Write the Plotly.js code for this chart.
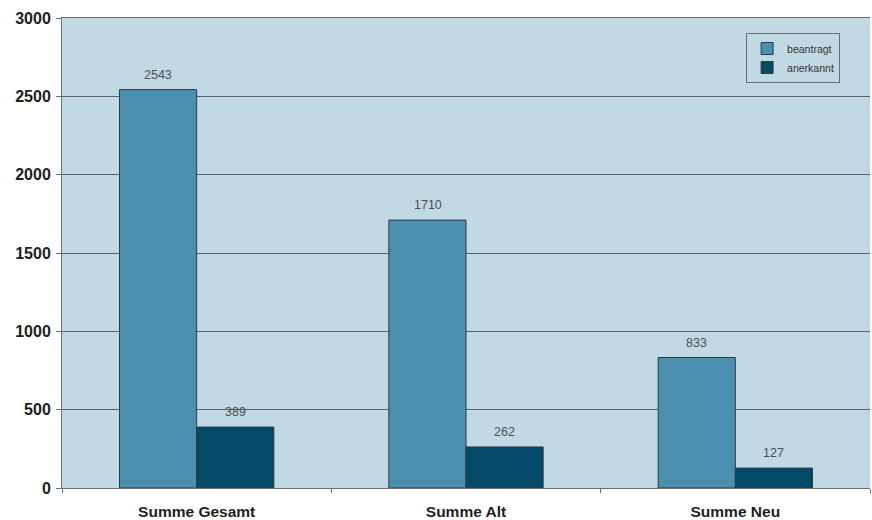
<!DOCTYPE html>
<html>
<head>
<meta charset="utf-8">
<script src="https://cdn.plot.ly/plotly-3.0.1.min.js"></script>
<style>
  html, body { margin: 0; padding: 0; background: #ffffff; }
  #chart { width: 872px; height: 520px; }
</style>
</head>
<body>
<div id="chart"></div>
<script>
// Antragszahlen nach Gruppe
const categories = ['Summe Gesamt', 'Summe Alt', 'Summe Neu'];
const beantragt = [2543, 1710, 833];
const anerkannt = [389, 262, 127];
const seriesNames = ['beantragt', 'anerkannt'];
const yTicks = [0, 500, 1000, 1500, 2000, 2500, 3000];

const FONT = 'Liberation Sans, Arial, Helvetica, sans-serif';
const colors = ['#4b90ae', '#024a68'];

const traces = [beantragt, anerkannt].map((vals, i) => ({
  type: 'bar',
  name: seriesNames[i],
  x: categories,
  y: vals,
  marker: { color: colors[i], line: { color: '#2f3b42', width: 1 } },
  hoverinfo: 'x+y+name'
}));

// value labels above each bar
const barShift = 38.5;
const annotations = [];
[beantragt, anerkannt].forEach((vals, i) => {
  vals.forEach((v, j) => {
    annotations.push({
      x: categories[j], y: v, xref: 'x', yref: 'y',
      text: String(v), showarrow: false,
      xshift: i === 0 ? -barShift : barShift, yshift: 15,
      font: { family: FONT, size: 12.5, color: '#4a4f54' }
    });
  });
});

const layout = {
  width: 872, height: 520,
  margin: { l: 62, r: 2, t: 18, b: 32 },
  paper_bgcolor: '#ffffff',
  plot_bgcolor: '#c1d9e5',
  barmode: 'group',
  bargap: 0.427,
  bargroupgap: 0,
  showlegend: true,
  legend: {
    x: 0.963, y: 0.968, xanchor: 'right', yanchor: 'top',
    bgcolor: 'rgba(0,0,0,0)', bordercolor: '#6a6f73', borderwidth: 1,
    font: { family: FONT, size: 10.5, color: '#333' },
    itemwidth: 30, tracegroupgap: 0
  },
  xaxis: {
    type: 'category',
    showline: true, linecolor: '#6a6f73', linewidth: 1, mirror: true,
    ticks: 'outside', tickson: 'boundaries', ticklen: 4, tickcolor: '#6a6f73',
    ticklabelstandoff: 9,
    tickfont: { family: FONT, size: 15.5, color: '#1e1e1e', weight: 'bold' },
    showgrid: false, fixedrange: true
  },
  yaxis: {
    range: [0, 3000],
    tickvals: yTicks,
    ticktext: yTicks.map(String),
    showline: true, linecolor: '#6a6f73', linewidth: 1,
    ticks: 'outside', ticklen: 5, tickcolor: '#6a6f73',
    ticklabelstandoff: 2,
    gridcolor: '#5c6266', gridwidth: 1,
    zeroline: false,
    tickfont: { family: FONT, size: 16, color: '#1e1e1e', weight: 'bold' },
    fixedrange: true
  },
  annotations: annotations
};

Plotly.newPlot('chart', traces, layout, { displayModeBar: false, staticPlot: true });
</script>
</body>
</html>
